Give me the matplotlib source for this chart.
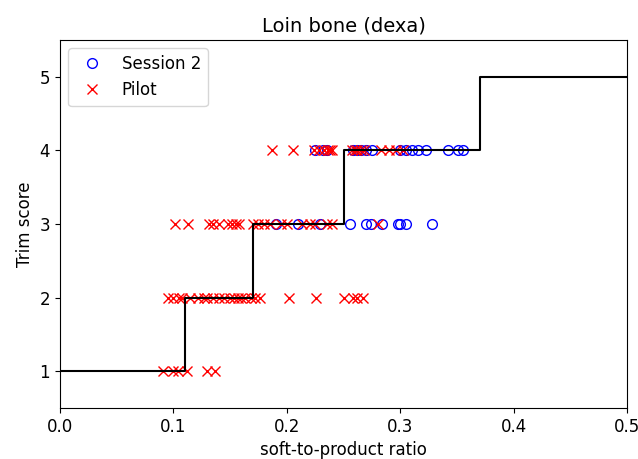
import matplotlib
matplotlib.use('Agg')
import matplotlib.pyplot as plt

# step thresholds for the trim score
step_x = [0.0, 0.11, 0.17, 0.25, 0.37, 0.5]
step_y = [1, 2, 3, 4, 5, 5]

# Session 2 (blue circles)
s2_ratio = [0.225, 0.232, 0.235, 0.258, 0.262, 0.265, 0.270, 0.275, 0.300,
            0.305, 0.310, 0.316, 0.323, 0.342, 0.351, 0.355,
            0.190, 0.210, 0.229, 0.256, 0.270, 0.274, 0.284, 0.298, 0.300,
            0.305, 0.328]
s2_score = [4] * 16 + [3] * 11

# Pilot (red crosses)
pilot_ratio = [0.187, 0.205, 0.224, 0.228, 0.233, 0.236, 0.238, 0.240, 0.257,
               0.260, 0.262, 0.265, 0.268, 0.283, 0.290, 0.296, 0.302,
               0.101, 0.113, 0.131, 0.135, 0.140, 0.148, 0.152, 0.155, 0.158,
               0.170, 0.175, 0.180, 0.185, 0.195, 0.200, 0.213, 0.220, 0.225,
               0.235, 0.240, 0.280,
               0.095, 0.100, 0.105, 0.108, 0.115, 0.122, 0.127, 0.130, 0.135,
               0.140, 0.145, 0.150, 0.153, 0.157, 0.160, 0.163, 0.168, 0.172,
               0.176, 0.202, 0.226, 0.250, 0.258, 0.262, 0.267,
               0.091, 0.100, 0.104, 0.112, 0.130, 0.137]
pilot_score = [4] * 17 + [3] * 21 + [2] * 25 + [1] * 6

plt.rcParams['font.size'] = 12

fig = plt.figure(figsize=(6.38, 4.59), dpi=100)
ax = fig.add_axes([0.094, 0.111, 0.889, 0.802])

ax.plot(s2_ratio, s2_score, 'o', ms=7, mfc='none', mec='blue', label='Session 2')
ax.plot(pilot_ratio, pilot_score, 'x', ms=7, color='red', label='Pilot')
ax.step(step_x, step_y, where='post', color='black', lw=1.5)

ax.set_xlim(0, 0.5)
ax.set_ylim(0.5, 5.5)
ax.set_yticks([1, 2, 3, 4, 5])
ax.set_title('Loin bone (dexa)', fontsize=14)
ax.set_xlabel('soft-to-product ratio')
ax.set_ylabel('Trim score')
ax.legend(loc='upper left')

fig.savefig('out.png')
